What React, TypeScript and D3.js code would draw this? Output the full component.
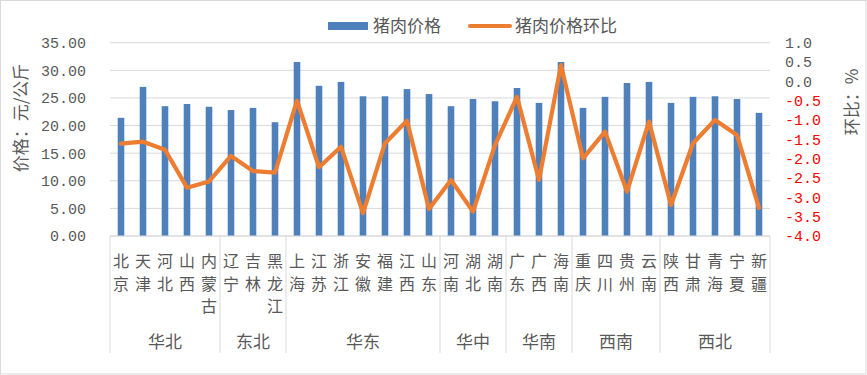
import { useMemo } from 'react'
import * as d3 from 'd3'

// 省份（按大区顺序）
const provinces = [
  '北京', '天津', '河北', '山西', '内蒙古',
  '辽宁', '吉林', '黑龙江',
  '上海', '江苏', '浙江', '安徽', '福建', '江西', '山东',
  '河南', '湖北', '湖南',
  '广东', '广西', '海南',
  '重庆', '四川', '贵州', '云南',
  '陕西', '甘肃', '青海', '宁夏', '新疆',
]

const regions = ['华北', '东北', '华东', '华中', '华南', '西南', '西北']
const regionSizes = [5, 3, 7, 3, 3, 4, 5]

// 猪肉价格 元/公斤
const prices = [
  21.4, 27.0, 23.5, 23.9, 23.4,
  22.8, 23.2, 20.6,
  31.5, 27.2, 27.9, 25.3, 25.3, 26.6, 25.7,
  23.5, 24.8, 24.4,
  26.8, 24.1, 31.5,
  23.2, 25.2, 27.7, 27.9,
  24.1, 25.2, 25.3, 24.8, 22.3,
]

// 猪肉价格环比 %
const momChange = [
  -1.61, -1.56, -1.77, -2.75, -2.59,
  -1.93, -2.32, -2.36,
  -0.5, -2.22, -1.69, -3.41, -1.6, -1.02, -3.3,
  -2.55, -3.37, -1.65,
  -0.4, -2.55, 0.42,
  -1.99, -1.3, -2.85, -1.04,
  -3.2, -1.6, -1.0, -1.39, -3.27,
]

const leftTicks = [0, 5, 10, 15, 20, 25, 30, 35]
const rightTicks = [1.0, 0.5, 0.0, -0.5, -1.0, -1.5, -2.0, -2.5, -3.0, -3.5, -4.0]

const W = 867
const H = 375
const plot = { left: 110, right: 770, top: 42.7, bottom: 236 }
const BLUE = '#4E80BC'
const ORANGE = '#ED7D31'
const GRID = '#d9d9d9'
const TEXT = '#595959'
const CJK = '"Noto Sans CJK SC", sans-serif'
const MONO = '"Liberation Mono", monospace'

export default function App() {
  const x = useMemo(
    () => d3.scaleBand<string>().domain(provinces).range([plot.left, plot.right]).padding(0),
    []
  )
  const yL = d3.scaleLinear().domain([0, 35]).range([plot.bottom, plot.top])
  const yR = d3.scaleLinear().domain([-4, 1]).range([plot.bottom, plot.top])
  const bw = x.bandwidth()
  const barW = 6.6

  const line = d3
    .line<number>()
    .x((_, i) => (x(provinces[i]) as number) + bw / 2)
    .y((d) => yR(d))

  // group boundaries
  const bounds: number[] = [0]
  regionSizes.forEach((n) => bounds.push(bounds[bounds.length - 1] + n))

  return (
    <svg
      width={W}
      height={H}
      style={{ position: 'absolute', left: 0, top: 0, background: '#fff' }}
    >
      <rect x={0.5} y={0.5} width={W - 1.5} height={H - 1.5} fill="#fff" stroke={GRID} />

      {/* gridlines */}
      {leftTicks.map((t) => (
        <line key={t} x1={plot.left} x2={plot.right} y1={yL(t)} y2={yL(t)} stroke={GRID} strokeWidth={1} />
      ))}

      {/* left axis labels */}
      {leftTicks.map((t) => (
        <text
          key={'l' + t}
          x={86}
          y={yL(t)}
          dy="0.36em"
          textAnchor="end"
          fontFamily={MONO}
          fontSize={15}
          fill={TEXT}
        >
          {t.toFixed(2)}
        </text>
      ))}

      {/* right axis labels */}
      {rightTicks.map((t) => (
        <text
          key={'r' + t}
          x={785}
          y={yR(t)}
          dy="0.36em"
          fontFamily={MONO}
          fontSize={15}
          fill={t < 0 ? '#FF0000' : TEXT}
        >
          {t.toFixed(1)}
        </text>
      ))}

      {/* axis titles */}
      <text
        transform="translate(27,118) rotate(-90)"
        textAnchor="middle"
        fontFamily={CJK}
        fontSize={17}
        fill={TEXT}
      >
        价格：元/公斤
      </text>
      <text
        transform="translate(858,102) rotate(-90)"
        textAnchor="middle"
        fontFamily={CJK}
        fontSize={17}
        fill={TEXT}
      >
        环比：%
      </text>

      {/* bars */}
      {prices.map((v, i) => (
        <rect
          key={provinces[i]}
          x={(x(provinces[i]) as number) + (bw - barW) / 2}
          y={yL(v)}
          width={barW}
          height={yL(0) - yL(v)}
          fill={BLUE}
        />
      ))}

      {/* line */}
      <path
        d={line(momChange) || ''}
        fill="none"
        stroke={ORANGE}
        strokeWidth={4.2}
        strokeLinejoin="round"
        strokeLinecap="round"
      />

      {/* category axis */}
      <line x1={plot.left} x2={plot.right} y1={plot.bottom} y2={plot.bottom} stroke={GRID} />
      {bounds.map((b) => {
        const bx = b < provinces.length ? (x(provinces[b]) as number) : plot.right
        return <line key={'b' + b} x1={bx} x2={bx} y1={plot.bottom} y2={353} stroke={GRID} />
      })}

      {provinces.map((p) => {
        const cx = (x(p) as number) + bw / 2
        return (
          <text key={'c' + p} fontFamily={CJK} fontSize={16} fill={TEXT} textAnchor="middle">
            {p.split('').map((ch, j) => (
              <tspan key={j} x={cx} y={267 + j * 22.5}>
                {ch}
              </tspan>
            ))}
          </text>
        )
      })}

      {regions.map((r, i) => {
        const x0 = x(provinces[bounds[i]]) as number
        const x1 = bounds[i + 1] < provinces.length ? (x(provinces[bounds[i + 1]]) as number) : plot.right
        return (
          <text
            key={r}
            x={(x0 + x1) / 2}
            y={348}
            textAnchor="middle"
            fontFamily={CJK}
            fontSize={17}
            fill={TEXT}
          >
            {r}
          </text>
        )
      })}

      {/* legend */}
      <rect x={328} y={22} width={40} height={8} fill={BLUE} />
      <text x={373} y={32} fontFamily={CJK} fontSize={17} fill={TEXT}>
        猪肉价格
      </text>
      <line x1={470} x2={510} y1={26} y2={26} stroke={ORANGE} strokeWidth={4} strokeLinecap="round" />
      <text x={515} y={32} fontFamily={CJK} fontSize={17} fill={TEXT}>
        猪肉价格环比
      </text>
    </svg>
  )
}
